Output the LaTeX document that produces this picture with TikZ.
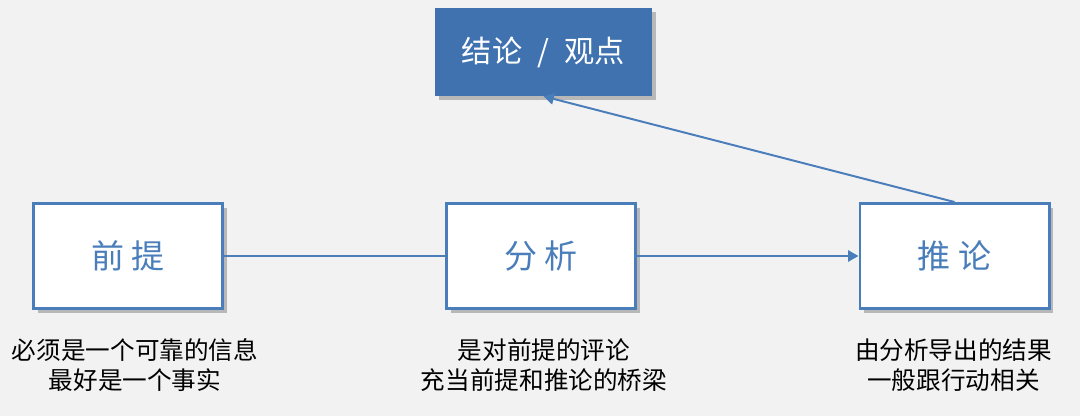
\documentclass[tikz,border=0pt]{standalone}
\usepackage{fontspec}
\setmainfont{Noto Sans CJK SC}
\usepackage{xcolor}
\usepackage{tikz}
\usetikzlibrary{shadows, arrows.meta}
\definecolor{bggray}{HTML}{F2F2F2}
\definecolor{boxblue}{HTML}{4A7EBB}
\definecolor{topblue}{HTML}{3F72AF}
\tikzstyle{box} = [draw=boxblue, line width=2.1pt, fill=white, text=boxblue,
  minimum width=4.725cm, minimum height=2.625cm, font=\fontsize{23.5}{28}\selectfont,
  drop shadow={shadow xshift=3pt, shadow yshift=-3pt, fill=black!50, opacity=.5}]
\tikzstyle{topbox} = [fill=topblue, text=white, minimum width=5.425cm, minimum height=2.2cm,
  font=\fontsize{21.5}{25}\selectfont,
  drop shadow={shadow xshift=3pt, shadow yshift=-3pt, fill=black!50, opacity=.5}]
\tikzstyle{note} = [align=center, font=\fontsize{17.5}{21.3}\selectfont]
\tikzstyle{link} = [line width=1.4pt, draw=boxblue]
\tikzstyle{arrow} = [link, -{Triangle[length=0.26cm, width=0.28cm]}]

\begin{document}
\begin{tikzpicture}[x=0.025cm, y=-0.025cm]
            \fill[bggray] (0,0) rectangle (1080,416);
            \node[topbox] (concl) at (543.5,52) {结论\hspace{0.5em}/\hspace{0.5em}观点};
            \node[box] (premise) at (128,256) {前 提};
            \node[box] (analysis) at (541,256) {分 析};
            \node[box] (infer) at (954.5,256) {推 论};
            % captions under the boxes
            \node[note] (premisenote) at (135,365) {必须是一个可靠的信息\\最好是一个事实};
            \node[note] (analysisnote) at (544,365) {是对前提的评论\\充当前提和推论的桥梁};
            \node[note] (infernote) at (953.5,365) {由分析导出的结果\\一般跟行动相关};
            \draw[link] (premise) -- (analysis);
            \draw[arrow] (analysis) -- (infer);
            \draw[arrow] (infer.north) -- (concl.south);
        \end{tikzpicture}
\end{document}
